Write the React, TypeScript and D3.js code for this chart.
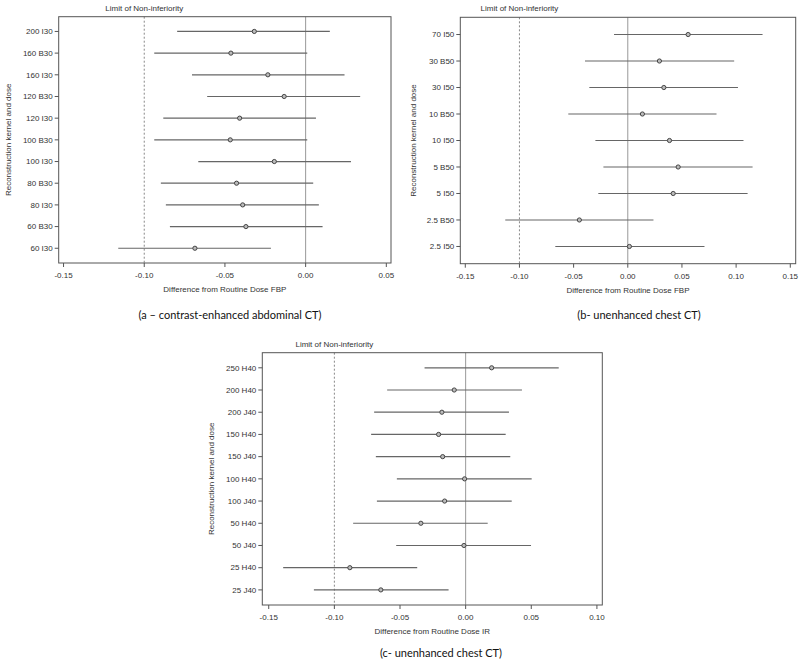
import React from "react";
import * as d3 from "d3";

// Panel (a) contrast-enhanced abdominal CT
const labelsA = ["200 I30", "160 B30", "160 I30", "120 B30", "120 I30", "100 B30", "100 I30", "80 B30", "80 I30", "60 B30", "60 I30"];
const estA = [-0.0318, -0.0463, -0.0234, -0.0133, -0.0409, -0.0467, -0.0194, -0.0428, -0.039, -0.037, -0.0686];
const lowA = [-0.0796, -0.0938, -0.0704, -0.061, -0.0882, -0.0938, -0.0665, -0.0897, -0.0866, -0.0841, -0.1161];
const highA = [0.015, 0.001, 0.0241, 0.0338, 0.0064, 0.001, 0.0281, 0.0047, 0.0082, 0.0105, -0.0215];
const ticksA = [-0.15, -0.1, -0.05, 0, 0.05];

// Panel (b) unenhanced chest CT
const labelsB = ["70 I50", "30 B50", "30 I50", "10 B50", "10 I50", "5 B50", "5 I50", "2.5 B50", "2.5 I50"];
const estB = [0.0557, 0.0292, 0.0333, 0.0135, 0.0385, 0.0465, 0.0419, -0.0447, 0.0015];
const lowB = [-0.0127, -0.0395, -0.0355, -0.0549, -0.0299, -0.0225, -0.0272, -0.1131, -0.0669];
const highB = [0.1244, 0.0982, 0.1017, 0.0819, 0.1068, 0.1152, 0.1106, 0.0237, 0.0708];
const ticksB = [-0.15, -0.1, -0.05, 0, 0.05, 0.1, 0.15];

// Panel (c) unenhanced chest CT
const labelsC = ["250 H40", "200 H40", "200 J40", "150 H40", "150 J40", "100 H40", "100 J40", "50 H40", "50 J40", "25 H40", "25 J40"];
const estC = [0.0198, -0.0087, -0.0181, -0.0206, -0.0175, -0.0008, -0.016, -0.0341, -0.0013, -0.0882, -0.0646];
const lowC = [-0.0313, -0.0598, -0.0697, -0.072, -0.0684, -0.0524, -0.0676, -0.0857, -0.0529, -0.139, -0.1156];
const highC = [0.0709, 0.0429, 0.033, 0.0305, 0.034, 0.0503, 0.0351, 0.0168, 0.0498, -0.0369, -0.013];
const ticksC = [-0.15, -0.1, -0.05, 0, 0.05, 0.1];

const limitValue = -0.1;

type PanelProps = {
  labels: string[];
  est: number[];
  low: number[];
  high: number[];
  ticks: number[];
  domain: [number, number];
  left: number;
  right: number;
  top: number;
  bottom: number;
  pad: number;
  xTitle: string;
  caption: string;
  captionX: number;
  captionY: number;
  yTitleX: number;
};

const FONT = "Liberation Sans, Arial, sans-serif";
const FS = 8;

function Panel(p: PanelProps) {
  const x = d3.scaleLinear().domain(p.domain).range([p.left, p.right]);
  const y = d3.scalePoint<string>().domain(p.labels).range([p.top, p.bottom]).padding(p.pad);
  const fmt = (v: number) => d3.format(".2f")(v).replace("\u2212", "-");
  const midX = (p.left + p.right) / 2;
  const midY = (p.top + p.bottom) / 2;
  return (
    <g>
      {/* limit of non-inferiority */}
      <line x1={x(limitValue)} x2={x(limitValue)} y1={p.top} y2={p.bottom} stroke="#888" strokeWidth={1} strokeDasharray="2,2" />
      <text x={x(limitValue)} y={p.top - 6} textAnchor="middle" fontFamily={FONT} fontSize={FS} fill="#333">Limit of Non-inferiority</text>
      {/* zero line */}
      <line x1={x(0)} x2={x(0)} y1={p.top} y2={p.bottom} stroke="#999" strokeWidth={1} />
      {/* CI lines and points */}
      {p.labels.map((l, i) => (
        <g key={l}>
          <line x1={x(p.low[i])} x2={x(p.high[i])} y1={y(l)} y2={y(l)} stroke="#666" strokeWidth={1.2} />
          <circle cx={x(p.est[i])} cy={y(l)} r={2.1} fill="#bbb" stroke="#444" strokeWidth={1} />
        </g>
      ))}
      {/* frame */}
      <rect x={p.left} y={p.top} width={p.right - p.left} height={p.bottom - p.top} fill="none" stroke="#555" strokeWidth={1} />
      {/* y ticks */}
      {p.labels.map((l) => (
        <g key={"yt" + l}>
          <line x1={p.left - 4} x2={p.left} y1={y(l)} y2={y(l)} stroke="#555" />
          <text x={p.left - 6} y={y(l)} dy="0.35em" textAnchor="end" fontFamily={FONT} fontSize={FS} fill="#333">{l}</text>
        </g>
      ))}
      {/* x ticks */}
      {p.ticks.map((t) => (
        <g key={"xt" + t}>
          <line x1={x(t)} x2={x(t)} y1={p.bottom} y2={p.bottom + 4} stroke="#555" />
          <text x={x(t)} y={p.bottom + 15} textAnchor="middle" fontFamily={FONT} fontSize={FS} fill="#333">{fmt(t)}</text>
        </g>
      ))}
      <text x={midX} y={p.bottom + 29} textAnchor="middle" fontFamily={FONT} fontSize={FS} fill="#333">{p.xTitle}</text>
      <text transform={`translate(${p.yTitleX},${midY}) rotate(-90)`} textAnchor="middle" dy="0.35em" fontFamily={FONT} fontSize={FS} fill="#333">Reconstruction kernel and dose</text>
      <text x={p.captionX} y={p.captionY} textAnchor="middle" fontFamily="Lato, Open Sans, sans-serif" fontSize={11} fill="#111">{p.caption}</text>
    </g>
  );
}

export default function App() {
  return (
    <svg width={800} height={665} style={{ position: "absolute", left: 0, top: 0, background: "#fff" }}>
      <rect x={0} y={0} width={800} height={665} fill="#fff" />
      <Panel labels={labelsA} est={estA} low={lowA} high={highA} ticks={ticksA}
        domain={[-0.153, 0.0529]} left={58.7} right={391} top={16.7} bottom={263} pad={0.68}
        xTitle="Difference from Routine Dose FBP" caption="(a – contrast-enhanced abdominal CT)"
        captionX={230} captionY={319} yTitleX={8.5} />
      <Panel labels={labelsB} est={estB} low={lowB} high={highB} ticks={ticksB}
        domain={[-0.1546, 0.155]} left={460.3} right={795.7} top={17.3} bottom={263.7} pad={0.65}
        xTitle="Difference from Routine Dose FBP" caption="(b- unenhanced chest CT)"
        captionX={639} captionY={319} yTitleX={413} />
      <Panel labels={labelsC} est={estC} low={lowC} high={highC} ticks={ticksC}
        domain={[-0.1549, 0.1041]} left={262.3} right={602.3} top={352.7} bottom={605} pad={0.68}
        xTitle="Difference from Routine Dose IR" caption="(c- unenhanced chest CT)"
        captionX={441} captionY={657} yTitleX={211} />
    </svg>
  );
}
